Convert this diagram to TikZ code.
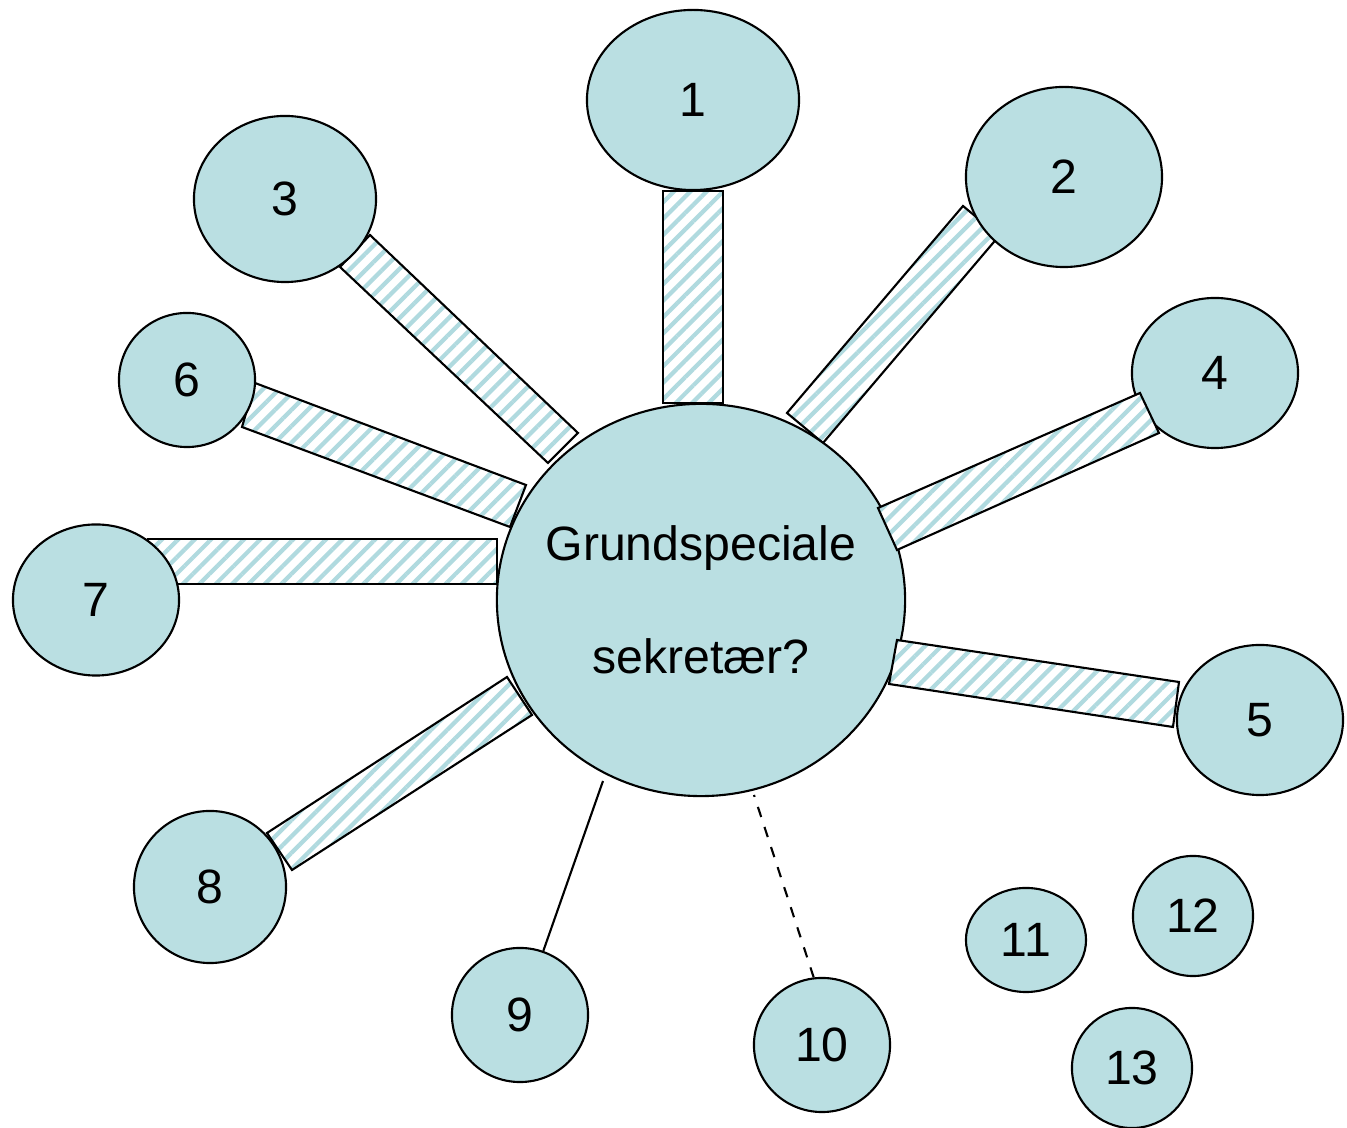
\documentclass[tikz,border=0pt]{standalone}
\usepackage{fontspec}
\setmainfont{Liberation Sans}
\usetikzlibrary{shapes.geometric,patterns.meta}
\definecolor{blob}{RGB}{186,223,226}
\definecolor{hatch}{RGB}{176,218,223}
\begin{document}
\begin{tikzpicture}[x=0.01cm,y=-0.01cm,
        blob/.style={ellipse,draw,line width=0.6pt,fill=blob,inner sep=0pt,font=\fontsize{13.7}{16}\selectfont},
        bar/.style={draw,line width=0.6pt,preaction={fill=white},pattern={Lines[angle=45,distance=3.3pt,line width=1.2pt]},pattern color=hatch}]
        \useasboundingbox (0,0) rectangle (1347,1128);

        % bars that lie under the circles
        \draw[bar] (663,191) -- (723,191) -- (723,403) -- (663,403) -- cycle;
        \draw[bar] (787,413) -- (823,443) -- (999,236) -- (963,206) -- cycle;
        \draw[bar] (578,433) -- (548,463) -- (340,267) -- (370,235) -- cycle;
        \draw[bar] (526,485) -- (510,527) -- (242,427) -- (255,383) -- cycle;
        \draw[bar] (148,539) -- (497,539) -- (497,584) -- (148,584) -- cycle;

        \node[blob,minimum width=4.08cm,minimum height=3.92cm,align=center,inner sep=-0.3cm,
              font=\fontsize{13.7}{32}\selectfont] (c) at (701,600) {Grundspeciale\\sekretær?};
        \node[blob,minimum width=2.12cm,minimum height=1.80cm] (n1) at (693,100) {1};
        \node[blob,minimum width=1.96cm,minimum height=1.80cm] (n2) at (1064,177) {2};
        \node[blob,minimum width=1.82cm,minimum height=1.66cm] (n3) at (285,199) {3};
        \node[blob,minimum width=1.66cm,minimum height=1.50cm] (n4) at (1215,373) {4};
        \node[blob,minimum width=1.66cm,minimum height=1.50cm] (n5) at (1260,720) {5};
        \node[blob,minimum width=1.36cm,minimum height=1.34cm] (n6) at (187,380) {6};
        \node[blob,minimum width=1.66cm,minimum height=1.51cm] (n7) at (96,600) {7};
        \node[blob,minimum width=1.52cm,minimum height=1.52cm] (n8) at (210,887) {8};
        \node[blob,minimum width=1.36cm,minimum height=1.34cm] (n9) at (520,1015) {9};
        \node[blob,minimum width=1.36cm,minimum height=1.34cm] (n10) at (822,1045) {10};
        \node[blob,minimum width=1.20cm,minimum height=1.04cm] (n11) at (1026,940) {11};
        \node[blob,minimum width=1.20cm,minimum height=1.20cm] (n12) at (1193,916) {12};
        \node[blob,minimum width=1.20cm,minimum height=1.20cm] (n13) at (1132,1068) {13};

        % bars on top
        \draw[bar] (878,508) -- (897,550) -- (1159,433) -- (1140,393) -- cycle;
        \draw[bar] (897,640) -- (889,684) -- (1173,727) -- (1179,682) -- cycle;
        \draw[bar] (507,677) -- (532,715) -- (292,870) -- (267,833) -- cycle;

        \coordinate (e9) at (603,781);
        \coordinate (e10) at (754,795);
        \draw[line width=0.6pt] (n9.70) -- (e9);
        \draw[line width=0.6pt,dashed] (n10.97) -- (e10);
\end{tikzpicture}
\end{document}
